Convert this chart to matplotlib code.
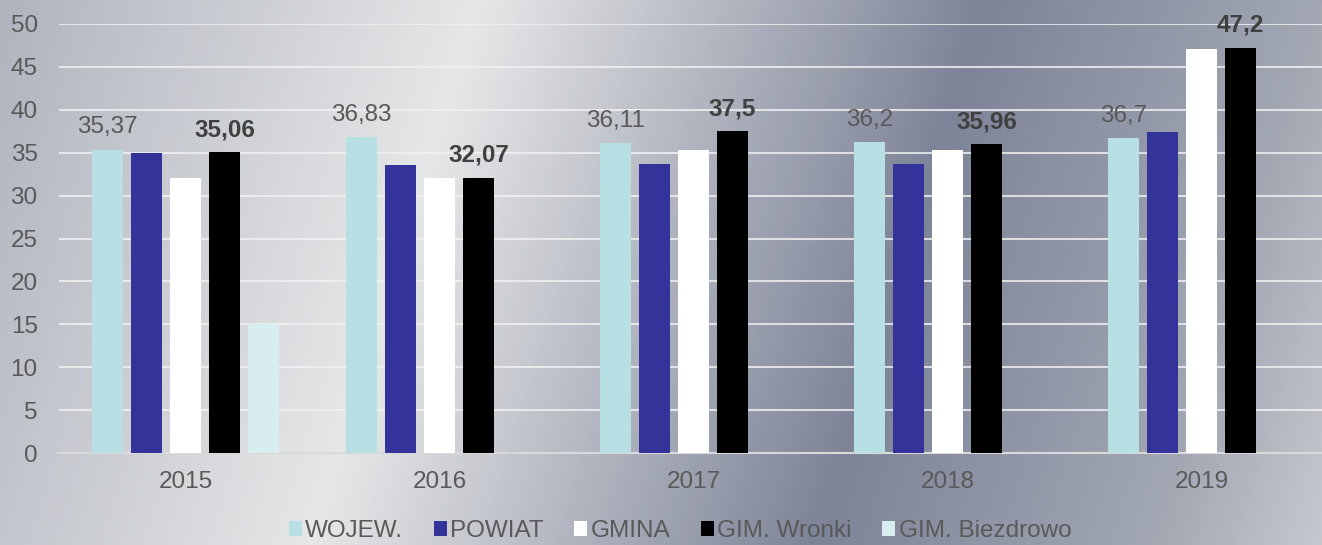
"""
Średnie wyniki 2015-2019: WOJEW. / POWIAT / GMINA / GIM. Wronki / GIM. Biezdrowo
Grouped bar chart on a grey gradient background (Excel-like look).
"""

import numpy as np
import matplotlib.pyplot as plt
from matplotlib.colors import LinearSegmentedColormap

plt.rcParams['font.family'] = ['Liberation Sans', 'DejaVu Sans']

years = ['2015', '2016', '2017', '2018', '2019']
series = ['WOJEW.', 'POWIAT', 'GMINA', 'GIM. Wronki', 'GIM. Biezdrowo']

wojew = [35.37, 36.83, 36.11, 36.2, 36.7]
powiat = [35.0, 33.6, 33.7, 33.7, 37.4]
gmina = [32.0, 32.0, 35.3, 35.3, 47.1]
wronki = [35.06, 32.07, 37.5, 35.96, 47.2]
biezdrowo = [15.0, np.nan, np.nan, np.nan, np.nan]

colors = ['#b8dfe3', '#333399', '#ffffff', '#000000', '#d8edf0']

W, H = 1322, 545
FS = 17.5


def fmt(v):
    return f'{v:g}'.replace('.', ',')


def draw_background(fig):
    # diagonal grey gradient: light band near 2016, dark band near 2018
    bg = fig.add_axes([0, 0, 1, 1], zorder=-10)
    yy, xx = np.mgrid[0:H, 0:W]
    u = (xx + 0.31 * yy) / (W + 0.31 * H)
    stops = [(0.0, '#b0b4be'), (480 / 1491, '#e6e7e8'), (985 / 1491, '#7e8498'),
             (1322 / 1491, '#a2a7b3'), (1.0, '#c6c8ce')]
    cmap = LinearSegmentedColormap.from_list('bg', stops)
    bg.imshow(u, cmap=cmap, vmin=0, vmax=1, aspect='auto', interpolation='bilinear')
    bg.set_axis_off()


def main(out_path='out.png'):
    fig = plt.figure(figsize=(W / 100, H / 100), dpi=100)
    draw_background(fig)

    ax = fig.add_axes([58.5 / W, 1 - 453 / H, 1 - 58.5 / W, (453 - 24) / H])
    ax.set_facecolor('none')

    data = [wojew, powiat, gmina, wronki, biezdrowo]
    x = np.arange(len(years))
    pitch = 0.1535
    width = 0.122
    bars = []
    for i, (name, vals, c) in enumerate(zip(series, data, colors)):
        b = ax.bar(x + (i - 2) * pitch, vals, width, color=c, label=name, zorder=3)
        bars.append(b)

    # data labels: WOJEW. normal, GIM. Wronki bold
    for rect, v in zip(bars[0], wojew):
        ax.annotate(fmt(v), (rect.get_x() + rect.get_width() / 2, v),
                    xytext=(0, 8), textcoords='offset points', ha='center', va='bottom',
                    fontsize=FS, color='#595959', zorder=5, annotation_clip=False)
    for rect, v in zip(bars[3], wronki):
        ax.annotate(fmt(v), (rect.get_x() + rect.get_width() / 2, v),
                    xytext=(0, 8), textcoords='offset points', ha='center', va='bottom',
                    fontsize=FS, fontweight='bold', color='#404040', zorder=5,
                    annotation_clip=False)

    ax.set_xlim(-0.5, -0.5 + (W - 58.5) / 254)
    ax.set_ylim(0, 50)
    ax.set_yticks(range(0, 51, 5))
    ax.set_xticks(x)
    ax.set_xticklabels(years)
    ax.tick_params(axis='both', length=0, labelsize=FS, labelcolor='#595959')
    ax.tick_params(axis='y', pad=15)
    ax.tick_params(axis='x', pad=13)
    ax.grid(axis='y', color='#f2f2f2', alpha=0.8, linewidth=1.5, zorder=0)
    for s in ['top', 'right', 'left']:
        ax.spines[s].set_visible(False)
    ax.spines['bottom'].set_color('#d9d9d9')
    ax.spines['bottom'].set_linewidth(1.5)

    leg = fig.legend(handles=bars, labels=series, loc='center', ncol=5,
                     bbox_to_anchor=(680 / W, 1 - 531 / H), frameon=False,
                     fontsize=FS, handlelength=0.53, handleheight=0.53,
                     handletextpad=0.15, columnspacing=1.25, borderaxespad=0)
    for t in leg.get_texts():
        t.set_color('#595959')

    fig.savefig(out_path, dpi=100)


if __name__ == '__main__':
    main()
